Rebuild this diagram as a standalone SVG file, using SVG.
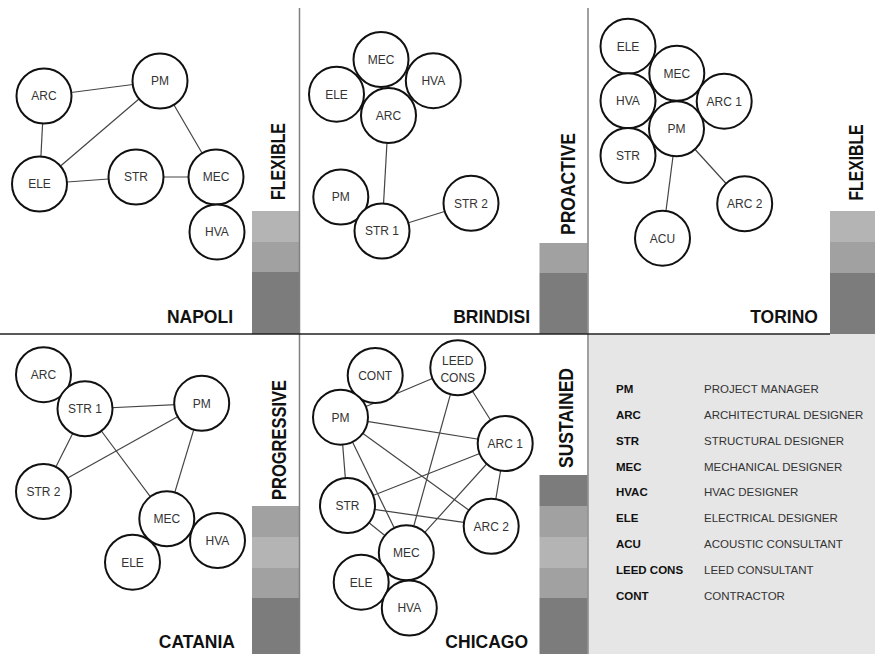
<svg xmlns="http://www.w3.org/2000/svg" width="875" height="654" viewBox="0 0 875 654">
<style>
.n circle{fill:#fff;stroke:#111;stroke-width:2}
.n text{font-family:"Liberation Sans",Arial,sans-serif;font-size:12px;fill:#333;text-anchor:middle}
#connectors line{stroke:#444;stroke-width:1.2}
.city{font-family:"Liberation Sans",Arial,sans-serif;font-size:17.5px;font-weight:bold;fill:#111;text-anchor:end}
.rot{font-family:"Liberation Sans",Arial,sans-serif;font-size:20px;font-weight:bold;fill:#111;text-anchor:middle}
.dk{fill:#7c7c7c}.md{fill:#a1a1a1}.lt{fill:#b4b4b4}
.lb{font-family:"Liberation Sans",Arial,sans-serif;font-size:11.5px;font-weight:bold;fill:#111}
.lr{font-family:"Liberation Sans",Arial,sans-serif;font-size:11.5px;fill:#333}
</style>
<rect width="875" height="654" fill="#fff"/>
<!-- legend background -->
<rect x="589" y="334" width="286" height="320" fill="#e6e6e6"/>
<!-- bars -->
<g id="bars">
<rect class="lt" x="252" y="211" width="47.5" height="31"/><rect class="md" x="252" y="242" width="47.5" height="30"/><rect class="dk" x="252" y="272" width="47.5" height="62"/>
<rect class="md" x="539.5" y="243" width="48" height="30"/><rect class="dk" x="539.5" y="273" width="48" height="61"/>
<rect class="lt" x="830" y="211" width="45" height="31"/><rect class="md" x="830" y="242" width="45" height="31"/><rect class="dk" x="830" y="273" width="45" height="61"/>
<rect class="md" x="252" y="506" width="47.5" height="31"/><rect class="lt" x="252" y="537" width="47.5" height="31"/><rect class="md" x="252" y="568" width="47.5" height="30"/><rect class="dk" x="252" y="598" width="47.5" height="56"/>
<rect class="dk" x="539.5" y="475" width="48" height="31"/><rect class="md" x="539.5" y="506" width="48" height="31"/><rect class="lt" x="539.5" y="537" width="48" height="31"/><rect class="md" x="539.5" y="568" width="48" height="30"/><rect class="dk" x="539.5" y="598" width="48" height="56"/>
</g>
<!-- grid -->
<g id="grid">
<line x1="299.5" y1="8" x2="299.5" y2="654" stroke="#808080" stroke-width="1.5"/>
<line x1="588" y1="8" x2="588" y2="654" stroke="#808080" stroke-width="1.5"/>
<line x1="0" y1="334" x2="830" y2="334" stroke="#222" stroke-width="1.5"/>
</g>
<!-- labels -->
<g id="labels">
<text class="city" x="233" y="323">NAPOLI</text>
<text class="city" x="530" y="323">BRINDISI</text>
<text class="city" x="818" y="323">TORINO</text>
<text class="city" x="235" y="648">CATANIA</text>
<text class="city" x="528" y="648">CHICAGO</text>
<text class="rot" transform="translate(285,161.5) rotate(-90)" textLength="77" lengthAdjust="spacingAndGlyphs">FLEXIBLE</text>
<text class="rot" transform="translate(575,184) rotate(-90)" textLength="102" lengthAdjust="spacingAndGlyphs">PROACTIVE</text>
<text class="rot" transform="translate(863,162.5) rotate(-90)" textLength="76" lengthAdjust="spacingAndGlyphs">FLEXIBLE</text>
<text class="rot" transform="translate(286,440) rotate(-90)" textLength="120" lengthAdjust="spacingAndGlyphs">PROGRESSIVE</text>
<text class="rot" transform="translate(573,418) rotate(-90)" textLength="100" lengthAdjust="spacingAndGlyphs">SUSTAINED</text>
</g>
<!-- connectors -->
<g id="connectors">
<!-- Napoli -->
<line x1="44" y1="96" x2="160" y2="81"/>
<line x1="44" y1="96" x2="39.5" y2="184"/>
<line x1="39.5" y1="184" x2="160" y2="81"/>
<line x1="39.5" y1="184" x2="136" y2="177"/>
<line x1="136" y1="177" x2="216" y2="177"/>
<line x1="160" y1="81" x2="216" y2="177"/>
<!-- Brindisi -->
<line x1="388.5" y1="115.5" x2="382" y2="231"/>
<line x1="382" y1="231" x2="471" y2="203.3"/>
<!-- Torino -->
<line x1="676.5" y1="129" x2="662.5" y2="238"/>
<line x1="676.5" y1="129" x2="744.7" y2="204"/>
<!-- Catania -->
<line x1="85" y1="409" x2="201.7" y2="403.3"/>
<line x1="85" y1="409" x2="43.5" y2="491.5"/>
<line x1="43.5" y1="491.5" x2="201.7" y2="403.3"/>
<line x1="85" y1="409" x2="166.8" y2="518.8"/>
<line x1="201.7" y1="403.3" x2="166.8" y2="518.8"/>
<!-- Chicago -->
<line x1="340.5" y1="417.2" x2="457.8" y2="367.8"/>
<line x1="340.5" y1="417.2" x2="505.2" y2="443.5"/>
<line x1="340.5" y1="417.2" x2="491.2" y2="526.3"/>
<line x1="340.5" y1="417.2" x2="347.5" y2="505.5"/>
<line x1="340.5" y1="417.2" x2="406.3" y2="552.8"/>
<line x1="457.8" y1="367.8" x2="505.2" y2="443.5"/>
<line x1="457.8" y1="367.8" x2="406.3" y2="552.8"/>
<line x1="505.2" y1="443.5" x2="347.5" y2="505.5"/>
<line x1="505.2" y1="443.5" x2="491.2" y2="526.3"/>
<line x1="505.2" y1="443.5" x2="406.3" y2="552.8"/>
<line x1="347.5" y1="505.5" x2="491.2" y2="526.3"/>
<line x1="347.5" y1="505.5" x2="406.3" y2="552.8"/>
</g>
<!-- Napoli nodes -->
<g id="napoli-ARC" class="n"><circle cx="44" cy="96" r="27.5"/><text x="44" y="100.3">ARC</text></g>
<g id="napoli-PM" class="n"><circle cx="160" cy="81" r="27.5"/><text x="160" y="85.3">PM</text></g>
<g id="napoli-ELE" class="n"><circle cx="39.5" cy="184" r="27.5"/><text x="39.5" y="188.3">ELE</text></g>
<g id="napoli-STR" class="n"><circle cx="136" cy="177" r="27.5"/><text x="136" y="181.3">STR</text></g>
<g id="napoli-MEC" class="n"><circle cx="216" cy="177" r="27.5"/><text x="216" y="181.3">MEC</text></g>
<g id="napoli-HVA" class="n"><circle cx="217" cy="232" r="27.5"/><text x="217" y="236.3">HVA</text></g>
<!-- Brindisi nodes -->
<g id="brindisi-MEC" class="n"><circle cx="381" cy="59.5" r="27.5"/><text x="381" y="63.8">MEC</text></g>
<g id="brindisi-HVA" class="n"><circle cx="433.3" cy="80.7" r="27.5"/><text x="433.3" y="85">HVA</text></g>
<g id="brindisi-ELE" class="n"><circle cx="336.5" cy="94.2" r="27.5"/><text x="336.5" y="98.5">ELE</text></g>
<g id="brindisi-ARC" class="n"><circle cx="388.5" cy="115.5" r="27.5"/><text x="388.5" y="119.8">ARC</text></g>
<g id="brindisi-PM" class="n"><circle cx="340.8" cy="197" r="27.5"/><text x="340.8" y="201.3">PM</text></g>
<g id="brindisi-STR1" class="n"><circle cx="382" cy="231" r="27.5"/><text x="382" y="235.3">STR 1</text></g>
<g id="brindisi-STR2" class="n"><circle cx="471" cy="203.3" r="27.5"/><text x="471" y="207.6">STR 2</text></g>
<!-- Torino nodes -->
<g id="torino-ELE" class="n"><circle cx="628" cy="46.2" r="27.5"/><text x="628" y="50.5">ELE</text></g>
<g id="torino-MEC" class="n"><circle cx="676.8" cy="73.3" r="27.5"/><text x="676.8" y="77.6">MEC</text></g>
<g id="torino-HVA" class="n"><circle cx="628" cy="100.8" r="27.5"/><text x="628" y="105.1">HVA</text></g>
<g id="torino-ARC1" class="n"><circle cx="724.2" cy="101.2" r="27.5"/><text x="724.2" y="105.5">ARC 1</text></g>
<g id="torino-STR" class="n"><circle cx="628" cy="155.5" r="27.5"/><text x="628" y="159.8">STR</text></g>
<g id="torino-PM" class="n"><circle cx="676.5" cy="128.8" r="27.5"/><text x="676.5" y="133.1">PM</text></g>
<g id="torino-ARC2" class="n"><circle cx="744.7" cy="203.8" r="27.5"/><text x="744.7" y="208.1">ARC 2</text></g>
<g id="torino-ACU" class="n"><circle cx="662.5" cy="238.2" r="27.5"/><text x="662.5" y="242.5">ACU</text></g>
<!-- Catania nodes -->
<g id="catania-ARC" class="n"><circle cx="43.5" cy="374.7" r="27.5"/><text x="43.5" y="379">ARC</text></g>
<g id="catania-STR1" class="n"><circle cx="85" cy="408.8" r="27.5"/><text x="85" y="413.1">STR 1</text></g>
<g id="catania-PM" class="n"><circle cx="201.7" cy="403.3" r="27.5"/><text x="201.7" y="407.6">PM</text></g>
<g id="catania-STR2" class="n"><circle cx="43.5" cy="491.5" r="27.5"/><text x="43.5" y="495.8">STR 2</text></g>
<g id="catania-MEC" class="n"><circle cx="166.8" cy="518.8" r="27.5"/><text x="166.8" y="523.1">MEC</text></g>
<g id="catania-HVA" class="n"><circle cx="217.5" cy="540.5" r="27.5"/><text x="217.5" y="544.8">HVA</text></g>
<g id="catania-ELE" class="n"><circle cx="132.5" cy="562.2" r="27.5"/><text x="132.5" y="566.5">ELE</text></g>
<!-- Chicago nodes -->
<g id="chicago-CONT" class="n"><circle cx="375.2" cy="375.5" r="27.5"/><text x="375.2" y="379.8">CONT</text></g>
<g id="chicago-LEED" class="n"><circle cx="457.8" cy="367.8" r="27.5"/><text x="457.8" y="364.7">LEED</text><text x="457.8" y="382.3">CONS</text></g>
<g id="chicago-PM" class="n"><circle cx="340.5" cy="417.2" r="27.5"/><text x="340.5" y="421.5">PM</text></g>
<g id="chicago-ARC1" class="n"><circle cx="505.2" cy="443.5" r="27.5"/><text x="505.2" y="447.8">ARC 1</text></g>
<g id="chicago-STR" class="n"><circle cx="347.5" cy="505.5" r="27.5"/><text x="347.5" y="509.8">STR</text></g>
<g id="chicago-ARC2" class="n"><circle cx="491.2" cy="526.3" r="27.5"/><text x="491.2" y="530.6">ARC 2</text></g>
<g id="chicago-MEC" class="n"><circle cx="406.3" cy="552.8" r="27.5"/><text x="406.3" y="557.1">MEC</text></g>
<g id="chicago-ELE" class="n"><circle cx="361.2" cy="582.2" r="27.5"/><text x="361.2" y="586.5">ELE</text></g>
<g id="chicago-HVA" class="n"><circle cx="409.3" cy="608" r="27.5"/><text x="409.3" y="612.3">HVA</text></g>
<!-- legend -->
<g id="legend">
<text class="lb" x="616" y="393">PM</text><text class="lr" x="704" y="393">PROJECT MANAGER</text>
<text class="lb" x="616" y="419">ARC</text><text class="lr" x="704" y="419">ARCHITECTURAL DESIGNER</text>
<text class="lb" x="616" y="445">STR</text><text class="lr" x="704" y="445">STRUCTURAL DESIGNER</text>
<text class="lb" x="616" y="471">MEC</text><text class="lr" x="704" y="471">MECHANICAL DESIGNER</text>
<text class="lb" x="616" y="496">HVAC</text><text class="lr" x="704" y="496">HVAC DESIGNER</text>
<text class="lb" x="616" y="522">ELE</text><text class="lr" x="704" y="522">ELECTRICAL DESIGNER</text>
<text class="lb" x="616" y="548">ACU</text><text class="lr" x="704" y="548">ACOUSTIC CONSULTANT</text>
<text class="lb" x="616" y="574">LEED CONS</text><text class="lr" x="704" y="574">LEED CONSULTANT</text>
<text class="lb" x="616" y="600">CONT</text><text class="lr" x="704" y="600">CONTRACTOR</text>
</g>
</svg>
